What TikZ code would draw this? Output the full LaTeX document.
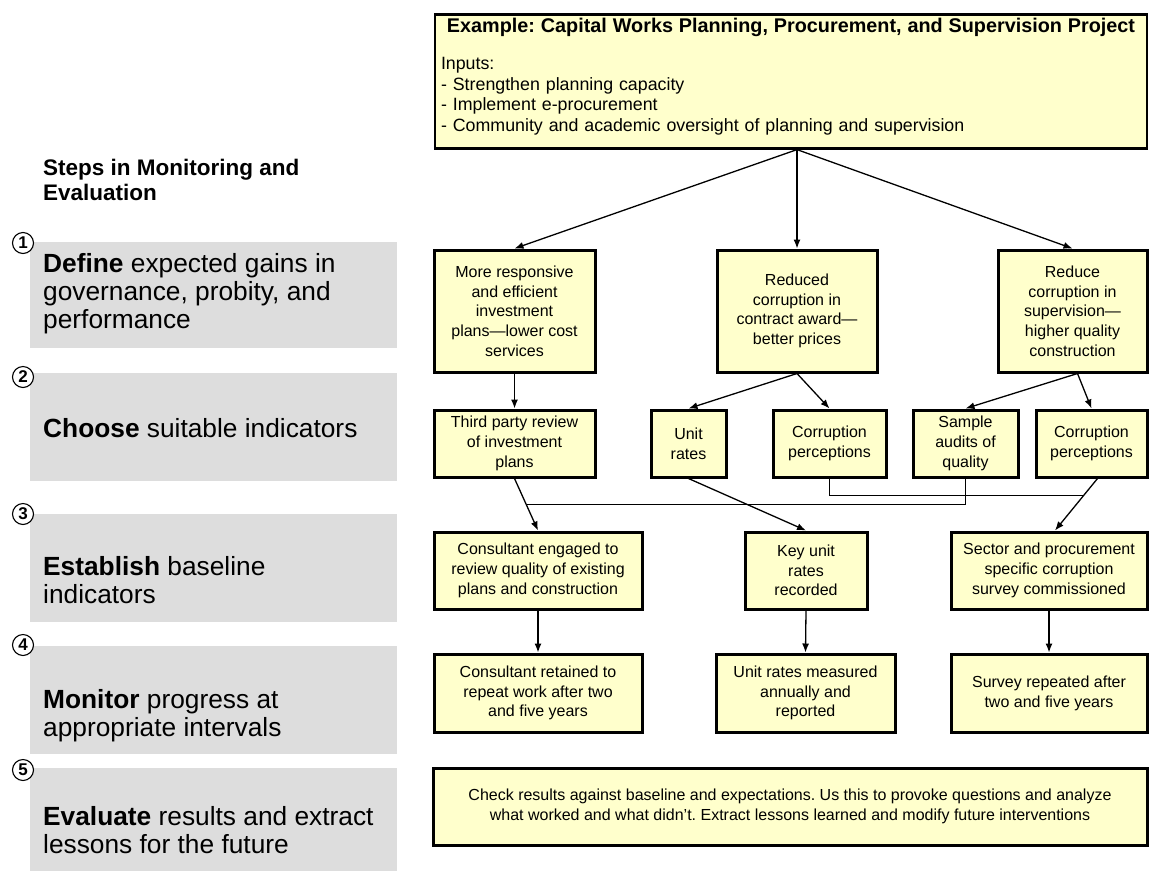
\documentclass[tikz,border=0pt]{standalone}
\usepackage{fontspec}
\setmainfont{Liberation Sans}
\usetikzlibrary{arrows.meta,positioning,calc}
\definecolor{boxyellow}{RGB}{255,255,204}
\definecolor{stepgray}{RGB}{221,221,221}
\frenchspacing

\begin{document}
\begin{tikzpicture}[x=1pt, y=-1pt, >={Latex[length=9pt,width=7pt]},
    flowbox/.style={draw, line width=3pt, fill=boxyellow, align=center, inner sep=2pt, font=\fontsize{16}{19.7}\selectfont},
    stepbox/.style={fill=stepgray, minimum width=367pt, inner sep=0pt},
    stepnum/.style={draw, circle, fill=white, line width=1.1pt, minimum size=21pt, inner sep=0pt, font=\fontsize{17}{17}\selectfont\bfseries},
    steptext/.style={anchor=west, align=left, inner sep=0pt, font=\fontsize{26.3}{28}\selectfont},
    link/.style={->, line width=1.3pt},
    feedline/.style={line width=1pt}]
    \useasboundingbox (0,0) rectangle (1158,871);

    % steps column
    \node[anchor=west, align=left, inner sep=0pt, font=\fontsize{22.5}{25}\selectfont\bfseries] (head) at (43,180) {Steps in Monitoring and\\Evaluation};
    \node[stepbox, minimum height=106pt] (s1) at (213.5,295) {};
    \node[stepbox, minimum height=108pt] (s2) at (213.5,427) {};
    \node[stepbox, minimum height=108pt] (s3) at (213.5,568) {};
    \node[stepbox, minimum height=108pt] (s4) at (213.5,700) {};
    \node[stepbox, minimum height=103pt] (s5) at (213.5,819.5) {};
    \node[stepnum] (n1) at (23,243) {1};
    \node[stepnum] (n2) at (23,377) {2};
    \node[stepnum] (n3) at (23,514) {3};
    \node[stepnum] (n4) at (23,645) {4};
    \node[stepnum] (n5) at (23,770) {5};
    \node[steptext] (t1) at (43,294) {\textbf{Define} expected gains in\\governance, probity, and\\performance};
    \node[steptext] (t2) at (43,428) {\textbf{Choose} suitable indicators};
    \node[steptext] (t3) at (43,580) {\textbf{Establish} baseline\\indicators};
    \node[steptext] (t4) at (43,716) {\textbf{Monitor} progress at\\appropriate intervals};
    \node[steptext] (t5) at (43,830) {\textbf{Evaluate} results and extract\\lessons for the future};

    % project box
    \node[draw, line width=2.6pt, fill=boxyellow, anchor=north, minimum width=712pt, minimum height=134pt, text width=700pt, align=left, inner sep=0pt, font=\fontsize{17.8}{20.8}\selectfont] (proj) at (791,13)
        {\makebox[\linewidth][c]{\fontsize{19.8}{22}\selectfont\bfseries Example: Capital Works Planning, Procurement, and Supervision Project}\\[16pt]
         Inputs:\\- Strengthen planning capacity\\- Implement e-procurement\\- Community and academic oversight of planning and supervision\\[-8pt]\mbox{}};
    \coordinate (hub) at ([xshift=6pt]proj.south);

    % expected gains
    \node[flowbox, minimum width=161pt, minimum height=122pt] (plan) at (514.5,311) {More responsive\\and efficient\\investment\\plans—lower cost\\services};
    \node[flowbox, minimum width=160pt, minimum height=122pt] (award) at (797,311) {Reduced\\corruption in\\contract award—\\better prices};
    \node[flowbox, minimum width=149pt, minimum height=122pt] (super) at (1072.5,311) {Reduce\\corruption in\\supervision—\\higher quality\\construction};

    % indicators
    \node[flowbox, minimum width=161pt, minimum height=67pt] (third) at (514.5,443.5) {Third party review\\of investment\\plans};
    \node[flowbox, minimum width=75pt, minimum height=67pt] (unit) at (688.5,443.5) {Unit\\rates};
    \node[flowbox, minimum width=113pt, minimum height=67pt] (corr1) at (829.5,443.5) {Corruption\\perceptions};
    \node[flowbox, minimum width=105pt, minimum height=67pt] (sample) at (965.5,443.5) {Sample\\audits of\\quality};
    \node[flowbox, minimum width=111pt, minimum height=67pt] (corr2) at (1091.5,443.5) {Corruption\\perceptions};

    % baseline
    \node[flowbox, minimum width=208pt, minimum height=77pt] (engaged) at (538,570.5) {Consultant engaged to\\review quality of existing\\plans and construction};
    \node[flowbox, minimum width=122pt, minimum height=77pt] (keyrates) at (806,570.5) {Key unit\\rates\\recorded};
    \node[flowbox, minimum width=196pt, minimum height=77pt] (sector) at (1049,570.5) {Sector and procurement\\specific corruption\\survey commissioned};

    % monitoring
    \node[flowbox, minimum width=208pt, minimum height=78pt] (retained) at (538,693) {Consultant retained to\\repeat work after two\\and five years};
    \node[flowbox, minimum width=179pt, minimum height=78pt] (measured) at (805.5,693) {Unit rates measured\\annually and\\reported};
    \node[flowbox, minimum width=196pt, minimum height=78pt] (survey) at (1049,693) {Survey repeated after\\two and five years};

    % evaluation
    \node[flowbox, minimum width=714pt, minimum height=77pt] (lessons) at (790,806.5) {Check results against baseline and expectations. Us this to provoke questions and analyze\\what worked and what didn’t. Extract lessons learned and modify future interventions};

    % connectors
    \draw[link] (hub) -- (plan.north);
    \draw[link] (hub) -- (award.north);
    \draw[link] (hub) -- (super.north);
    \draw[link] (plan.south) -- (third.north);
    \draw[link] (award.south) -- (unit.north);
    \draw[link] (award.south) -- (corr1.north);
    \coordinate (supout) at ([xshift=5pt]super.south);
    \draw[link] (supout) -- (sample.north);
    \draw[link] (supout) -- (corr2.north);
    \coordinate (c2out) at ([xshift=6pt]corr2.south);
    \coordinate (secin) at ([xshift=6pt]sector.north);
    \draw[link] (third.south) -- (engaged.north);
    \draw[link] (unit.south) -- (keyrates.north);
    \draw[link] (c2out) -- (secin);
    \draw[feedline] (sample.south) |- ($(third.south)!0.5!(engaged.north)$);
    \draw[feedline] (corr1.south) |- ($(c2out)!0.33!(secin)$);
    \draw[link] (engaged.south) -- (retained.north);
    \draw[link] (keyrates.south) -- (measured.north);
    \draw[link] (sector.south) -- (survey.north);
\end{tikzpicture}
\end{document}
